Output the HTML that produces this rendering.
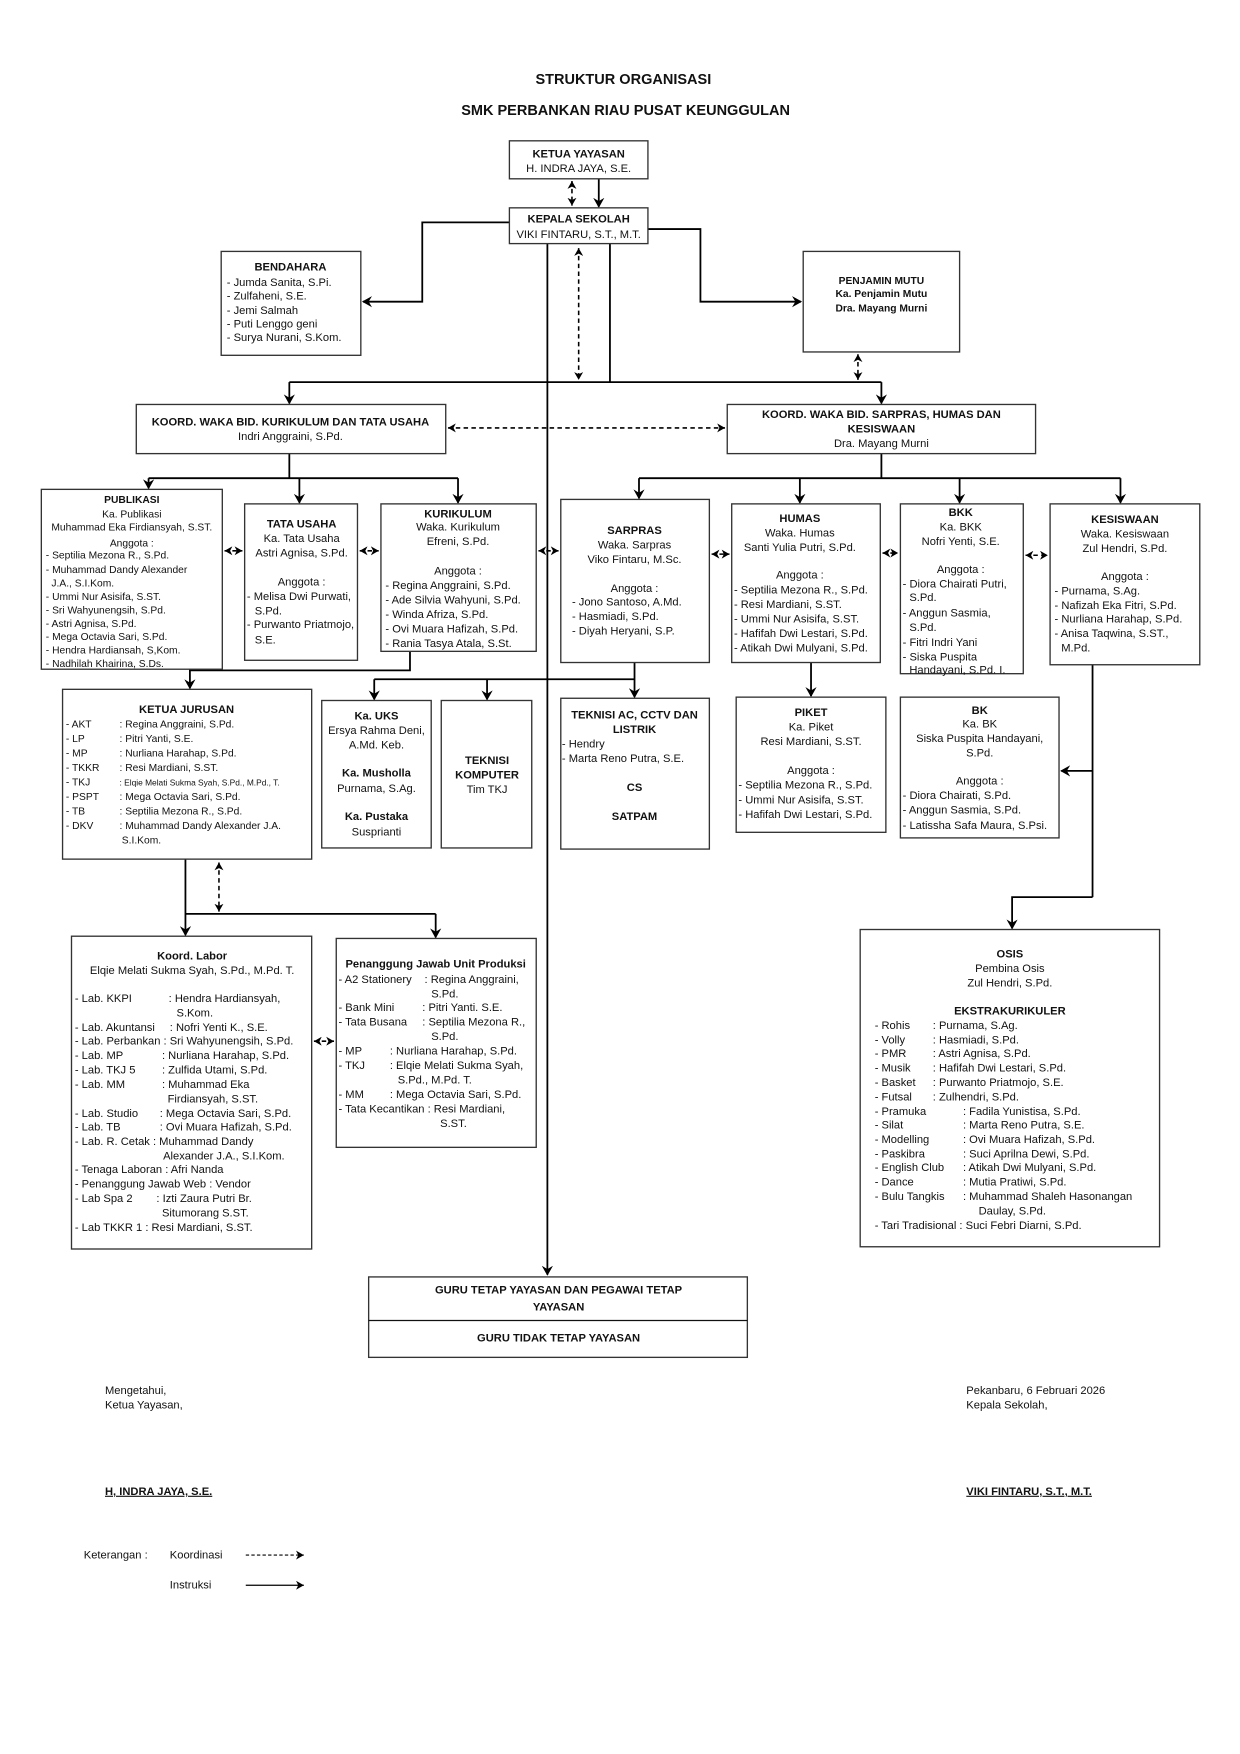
<!DOCTYPE html>
<html><head><meta charset="utf-8">
<style>
html,body{margin:0;padding:0;background:#fff;}
svg{display:block;}
text{font-family:"Liberation Sans",Arial,sans-serif;font-size:10px;fill:#111;}
.b{font-weight:bold;}
.c{text-anchor:middle;}
.s{font-size:9.2px;}
.t{font-size:7.5px;}
rect{fill:#fff;stroke:#333;stroke-width:1.2;}
.l{stroke:#000;stroke-width:1.6;fill:none;}
.d{stroke:#000;stroke-width:1.4;fill:none;stroke-dasharray:4,3;}
</style></head><body>
<svg width="1240" height="1754" viewBox="0 0 1110 1570" xmlns="http://www.w3.org/2000/svg">
<defs>
<marker id="a" markerWidth="10" markerHeight="10" refX="8" refY="5" orient="auto" markerUnits="userSpaceOnUse"><path d="M0,0 L9,5 L0,10 L3,5 z" fill="#000"/></marker>
<marker id="as" markerWidth="8" markerHeight="8" refX="7" refY="4" orient="auto-start-reverse" markerUnits="userSpaceOnUse"><path d="M0,0 L7,4 L0,8 L2,4 z" fill="#000"/></marker>
</defs>

<text class="b c" x="558" y="75" style="font-size:13px">STRUKTUR ORGANISASI</text>
<text class="b c" x="560" y="103" style="font-size:13px">SMK PERBANKAN RIAU PUSAT KEUNGGULAN</text>

<!-- connectors -->
<line class="d" x1="512" y1="162" x2="512" y2="184" marker-start="url(#as)" marker-end="url(#as)"/>
<line class="l" x1="536" y1="160" x2="536" y2="185" marker-end="url(#a)"/>
<polyline class="l" points="456,199 378,199 378,270 325,270" marker-end="url(#a)"/>
<polyline class="l" points="580,205 627,205 627,270 717,270" marker-end="url(#a)"/>
<line class="l" x1="490" y1="218" x2="490" y2="1141" marker-end="url(#a)"/>
<line class="l" x1="546" y1="218" x2="546" y2="342"/>
<line class="d" x1="518" y1="222" x2="518" y2="340" marker-start="url(#as)" marker-end="url(#as)"/>
<line class="l" x1="259" y1="342" x2="789" y2="342"/>
<line class="l" x1="259" y1="342" x2="259" y2="361" marker-end="url(#a)"/>
<line class="l" x1="789" y1="342" x2="789" y2="361" marker-end="url(#a)"/>
<line class="d" x1="768" y1="317" x2="768" y2="340" marker-start="url(#as)" marker-end="url(#as)"/>
<line class="d" x1="401" y1="383" x2="649" y2="383" marker-start="url(#as)" marker-end="url(#as)"/>

<line class="l" x1="259" y1="406" x2="259" y2="428"/>
<line class="l" x1="133" y1="428" x2="410" y2="428"/>
<line class="l" x1="133" y1="428" x2="133" y2="437" marker-end="url(#a)"/>
<line class="l" x1="268" y1="428" x2="268" y2="450" marker-end="url(#a)"/>
<line class="l" x1="410" y1="428" x2="410" y2="450" marker-end="url(#a)"/>
<line class="l" x1="789" y1="406" x2="789" y2="428"/>
<line class="l" x1="572" y1="428" x2="1003" y2="428"/>
<line class="l" x1="572" y1="428" x2="572" y2="446" marker-end="url(#a)"/>
<line class="l" x1="716" y1="428" x2="716" y2="450" marker-end="url(#a)"/>
<line class="l" x1="859" y1="428" x2="859" y2="450" marker-end="url(#a)"/>
<line class="l" x1="1003" y1="428" x2="1003" y2="450" marker-end="url(#a)"/>

<line class="d" x1="201" y1="493" x2="217" y2="493" marker-start="url(#as)" marker-end="url(#as)"/>
<line class="d" x1="322" y1="493" x2="339" y2="493" marker-start="url(#as)" marker-end="url(#as)"/>
<line class="d" x1="482" y1="493" x2="500" y2="493" marker-start="url(#as)" marker-end="url(#as)"/>
<line class="d" x1="637" y1="496" x2="653" y2="496" marker-start="url(#as)" marker-end="url(#as)"/>
<line class="d" x1="790" y1="495" x2="804" y2="495" marker-start="url(#as)" marker-end="url(#as)"/>
<line class="d" x1="918" y1="497" x2="938" y2="497" marker-start="url(#as)" marker-end="url(#as)"/>

<polyline class="l" points="367,583 367,600 170,600 170,616" marker-end="url(#a)"/>
<line class="l" x1="568" y1="593" x2="568" y2="624" marker-end="url(#a)"/>
<line class="l" x1="335" y1="608" x2="568" y2="608"/>
<line class="l" x1="335" y1="608" x2="335" y2="626" marker-end="url(#a)"/>
<line class="l" x1="436" y1="608" x2="436" y2="626" marker-end="url(#a)"/>
<line class="l" x1="726" y1="593" x2="726" y2="623" marker-end="url(#a)"/>
<line class="l" x1="978" y1="595" x2="978" y2="803"/>
<line class="l" x1="978" y1="690" x2="950" y2="690" marker-end="url(#a)"/>
<polyline class="l" points="978,803 906,803 906,831" marker-end="url(#a)"/>

<line class="l" x1="166" y1="769" x2="166" y2="837" marker-end="url(#a)"/>
<line class="l" x1="166" y1="818" x2="390" y2="818"/>
<line class="l" x1="390" y1="818" x2="390" y2="839" marker-end="url(#a)"/>
<line class="d" x1="196" y1="772" x2="196" y2="816" marker-start="url(#as)" marker-end="url(#as)"/>
<line class="d" x1="281" y1="932" x2="299" y2="932" marker-start="url(#as)" marker-end="url(#as)"/>

<!-- boxes -->
<rect x="456" y="126" width="124" height="34"/>
<text class="b c" x="518" y="141">KETUA YAYASAN</text>
<text class="c" x="518" y="154">H. INDRA JAYA, S.E.</text>

<rect x="456" y="186" width="124" height="32"/>
<text class="b c" x="518" y="199">KEPALA SEKOLAH</text>
<text class="c" x="518" y="213">VIKI FINTARU, S.T., M.T.</text>

<rect x="198" y="225" width="125" height="93"/>
<text class="b c" x="260" y="242">BENDAHARA</text>
<text x="203" y="256">- Jumda Sanita, S.Pi.</text>
<text x="203" y="268">- Zulfaheni, S.E.</text>
<text x="203" y="281">- Jemi Salmah</text>
<text x="203" y="293">- Puti Lenggo geni</text>
<text x="203" y="305">- Surya Nurani, S.Kom.</text>

<rect x="719" y="225" width="140" height="90"/>
<text class="b c s" x="789" y="254">PENJAMIN MUTU</text>
<text class="b c s" x="789" y="266">Ka. Penjamin Mutu</text>
<text class="b c s" x="789" y="279">Dra. Mayang Murni</text>

<rect x="122" y="362" width="277" height="44"/>
<text class="b c" x="260" y="381">KOORD. WAKA BID. KURIKULUM DAN TATA USAHA</text>
<text class="c" x="260" y="394">Indri Anggraini, S.Pd.</text>

<rect x="651" y="362" width="276" height="44"/>
<text class="b c" x="789" y="374">KOORD. WAKA BID. SARPRAS, HUMAS DAN</text>
<text class="b c" x="789" y="387">KESISWAAN</text>
<text class="c" x="789" y="400">Dra. Mayang Murni</text>

<rect x="37" y="438" width="162" height="161"/>
<text class="b c s" x="118" y="450">PUBLIKASI</text>
<text class="c s" x="118" y="463">Ka. Publikasi</text>
<text class="c s" x="118" y="475">Muhammad Eka Firdiansyah, S.ST.</text>
<text class="c s" x="118" y="489">Anggota :</text>
<text class="s" x="41" y="500">- Septilia Mezona R., S.Pd.</text>
<text class="s" x="41" y="513">- Muhammad Dandy Alexander</text>
<text class="s" x="46" y="525">J.A., S.I.Kom.</text>
<text class="s" x="41" y="537">- Ummi Nur Asisifa, S.ST.</text>
<text class="s" x="41" y="549">- Sri Wahyunengsih, S.Pd.</text>
<text class="s" x="41" y="561">- Astri Agnisa, S.Pd.</text>
<text class="s" x="41" y="573">- Mega Octavia Sari, S.Pd.</text>
<text class="s" x="41" y="585">- Hendra Hardiansah, S,Kom.</text>
<text class="s" x="41" y="597">- Nadhilah Khairina, S.Ds.</text>

<rect x="219" y="451" width="101" height="140"/>
<text class="b c" x="270" y="472">TATA USAHA</text>
<text class="c" x="270" y="485">Ka. Tata Usaha</text>
<text class="c" x="270" y="498">Astri Agnisa, S.Pd.</text>
<text class="c" x="270" y="524">Anggota :</text>
<text x="221" y="537">- Melisa Dwi Purwati,</text>
<text x="228" y="550">S.Pd.</text>
<text x="221" y="562">- Purwanto Priatmojo,</text>
<text x="228" y="576">S.E.</text>

<rect x="341" y="451" width="139" height="132"/>
<text class="b c" x="410" y="463">KURIKULUM</text>
<text class="c" x="410" y="475">Waka. Kurikulum</text>
<text class="c" x="410" y="488">Efreni, S.Pd.</text>
<text class="c" x="410" y="514">Anggota :</text>
<text x="345" y="527">- Regina Anggraini, S.Pd.</text>
<text x="345" y="540">- Ade Silvia Wahyuni, S.Pd.</text>
<text x="345" y="553">- Winda Afriza, S.Pd.</text>
<text x="345" y="566">- Ovi Muara Hafizah, S.Pd.</text>
<text x="345" y="579">- Rania Tasya Atala, S.St.</text>

<rect x="502" y="447" width="133" height="146"/>
<text class="b c" x="568" y="478">SARPRAS</text>
<text class="c" x="568" y="491">Waka. Sarpras</text>
<text class="c" x="568" y="504">Viko Fintaru, M.Sc.</text>
<text class="c" x="568" y="530">Anggota :</text>
<text x="512" y="542">- Jono Santoso, A.Md.</text>
<text x="512" y="555">- Hasmiadi, S.Pd.</text>
<text x="512" y="568">- Diyah Heryani, S.P.</text>

<rect x="655" y="451" width="133" height="142"/>
<text class="b c" x="716" y="467">HUMAS</text>
<text class="c" x="716" y="480">Waka. Humas</text>
<text class="c" x="716" y="493">Santi Yulia Putri, S.Pd.</text>
<text class="c" x="716" y="518">Anggota :</text>
<text x="657" y="531">- Septilia Mezona R., S.Pd.</text>
<text x="657" y="544">- Resi Mardiani, S.ST.</text>
<text x="657" y="557">- Ummi Nur Asisifa, S.ST.</text>
<text x="657" y="570">- Hafifah Dwi Lestari, S.Pd.</text>
<text x="657" y="583">- Atikah Dwi Mulyani, S.Pd.</text>

<rect x="806" y="451" width="110" height="152"/>
<text class="b c" x="860" y="462">BKK</text>
<text class="c" x="860" y="475">Ka. BKK</text>
<text class="c" x="860" y="488">Nofri Yenti, S.E.</text>
<text class="c" x="860" y="513">Anggota :</text>
<text x="808" y="526">- Diora Chairati Putri,</text>
<text x="814" y="538">S.Pd.</text>
<text x="808" y="552">- Anggun Sasmia,</text>
<text x="814" y="565">S.Pd.</text>
<text x="808" y="578">- Fitri Indri Yani</text>
<text x="808" y="591">- Siska Puspita</text>
<text x="814" y="603">Handayani, S.Pd. I.</text>

<rect x="940" y="451" width="134" height="144"/>
<text class="b c" x="1007" y="468">KESISWAAN</text>
<text class="c" x="1007" y="481">Waka. Kesiswaan</text>
<text class="c" x="1007" y="494">Zul Hendri, S.Pd.</text>
<text class="c" x="1007" y="519">Anggota :</text>
<text x="944" y="532">- Purnama, S.Ag.</text>
<text x="944" y="545">- Nafizah Eka Fitri, S.Pd.</text>
<text x="944" y="557">- Nurliana Harahap, S.Pd.</text>
<text x="944" y="570">- Anisa Taqwina, S.ST.,</text>
<text x="950" y="583">M.Pd.</text>

<rect x="56" y="617" width="223" height="152"/>
<text class="b c" x="167" y="638">KETUA JURUSAN</text>
<g class="s">
<text class="s" x="59" y="651">- AKT</text><text class="s" x="107" y="651">: Regina Anggraini, S.Pd.</text>
<text class="s" x="59" y="664">- LP</text><text class="s" x="107" y="664">: Pitri Yanti, S.E.</text>
<text class="s" x="59" y="677">- MP</text><text class="s" x="107" y="677">: Nurliana Harahap, S.Pd.</text>
<text class="s" x="59" y="690">- TKKR</text><text class="s" x="107" y="690">: Resi Mardiani, S.ST.</text>
<text class="s" x="59" y="703">- TKJ</text><text class="t" x="107" y="703">: Elqie Melati Sukma Syah, S.Pd., M.Pd., T.</text>
<text class="s" x="59" y="716">- PSPT</text><text class="s" x="107" y="716">: Mega Octavia Sari, S.Pd.</text>
<text class="s" x="59" y="729">- TB</text><text class="s" x="107" y="729">: Septilia Mezona R., S.Pd.</text>
<text class="s" x="59" y="742">- DKV</text><text class="s" x="107" y="742">: Muhammad Dandy Alexander J.A.</text>
<text class="s" x="109" y="755">S.I.Kom.</text>
</g>

<rect x="288" y="627" width="98" height="132"/>
<text class="b c" x="337" y="644">Ka. UKS</text>
<text class="c" x="337" y="657">Ersya Rahma Deni,</text>
<text class="c" x="337" y="670">A.Md. Keb.</text>
<text class="b c" x="337" y="695">Ka. Musholla</text>
<text class="c" x="337" y="709">Purnama, S.Ag.</text>
<text class="b c" x="337" y="734">Ka. Pustaka</text>
<text class="c" x="337" y="748">Susprianti</text>

<rect x="395" y="627" width="81" height="132"/>
<text class="b c" x="436" y="684">TEKNISI</text>
<text class="b c" x="436" y="697">KOMPUTER</text>
<text class="c" x="436" y="710">Tim TKJ</text>

<rect x="502" y="625" width="133" height="135"/>
<text class="b c" x="568" y="643">TEKNISI AC, CCTV DAN</text>
<text class="b c" x="568" y="656">LISTRIK</text>
<text x="503" y="669">- Hendry</text>
<text x="503" y="682">- Marta Reno Putra, S.E.</text>
<text class="b c" x="568" y="708">CS</text>
<text class="b c" x="568" y="734">SATPAM</text>

<rect x="659" y="624" width="134" height="121"/>
<text class="b c" x="726" y="641">PIKET</text>
<text class="c" x="726" y="654">Ka. Piket</text>
<text class="c" x="726" y="667">Resi Mardiani, S.ST.</text>
<text class="c" x="726" y="693">Anggota :</text>
<text x="661" y="706">- Septilia Mezona R., S.Pd.</text>
<text x="661" y="719">- Ummi Nur Asisifa, S.ST.</text>
<text x="661" y="732">- Hafifah Dwi Lestari, S.Pd.</text>

<rect x="806" y="624" width="142" height="126"/>
<text class="b c" x="877" y="639">BK</text>
<text class="c" x="877" y="651">Ka. BK</text>
<text class="c" x="877" y="664">Siska Puspita Handayani,</text>
<text class="c" x="877" y="677">S.Pd.</text>
<text class="c" x="877" y="702">Anggota :</text>
<text x="808" y="715">- Diora Chairati, S.Pd.</text>
<text x="808" y="728">- Anggun Sasmia, S.Pd.</text>
<text x="808" y="742">- Latissha Safa Maura, S.Psi.</text>

<rect x="64" y="838" width="215" height="280"/>
<text class="b c" x="172" y="859">Koord. Labor</text>
<text class="c" x="172" y="872">Elqie Melati Sukma Syah, S.Pd., M.Pd. T.</text>
<text x="67" y="897">- Lab. KKPI</text><text x="151" y="897">: Hendra Hardiansyah,</text>
<text x="158" y="910">S.Kom.</text>
<text x="67" y="923">- Lab. Akuntansi</text><text x="152" y="923">: Nofri Yenti K., S.E.</text>
<text x="67" y="935">- Lab. Perbankan : Sri Wahyunengsih, S.Pd.</text>
<text x="67" y="948">- Lab. MP</text><text x="145" y="948">: Nurliana Harahap, S.Pd.</text>
<text x="67" y="961">- Lab. TKJ 5</text><text x="145" y="961">: Zulfida Utami, S.Pd.</text>
<text x="67" y="974">- Lab. MM</text><text x="145" y="974">: Muhammad Eka</text>
<text x="150" y="987">Firdiansyah, S.ST.</text>
<text x="67" y="1000">- Lab. Studio</text><text x="143" y="1000">: Mega Octavia Sari, S.Pd.</text>
<text x="67" y="1012">- Lab. TB</text><text x="143" y="1012">: Ovi Muara Hafizah, S.Pd.</text>
<text x="67" y="1025">- Lab. R. Cetak : Muhammad Dandy</text>
<text x="146" y="1038">Alexander J.A., S.I.Kom.</text>
<text x="67" y="1050">- Tenaga Laboran : Afri Nanda</text>
<text x="67" y="1063">- Penanggung Jawab Web : Vendor</text>
<text x="67" y="1076">- Lab Spa 2</text><text x="140" y="1076">: Izti Zaura Putri Br.</text>
<text x="145" y="1089">Situmorang S.ST.</text>
<text x="67" y="1102">- Lab TKKR 1  : Resi Mardiani, S.ST.</text>

<rect x="301" y="840" width="179" height="187"/>
<text class="b c" x="390" y="866">Penanggung Jawab Unit Produksi</text>
<text x="303" y="880">- A2 Stationery</text><text x="380" y="880">: Regina Anggraini,</text>
<text x="386" y="893">S.Pd.</text>
<text x="303" y="905">- Bank Mini</text><text x="378" y="905">: Pitri Yanti. S.E.</text>
<text x="303" y="918">- Tata Busana</text><text x="378" y="918">: Septilia Mezona R.,</text>
<text x="386" y="931">S.Pd.</text>
<text x="303" y="944">- MP</text><text x="349" y="944">: Nurliana Harahap, S.Pd.</text>
<text x="303" y="957">- TKJ</text><text x="349" y="957">: Elqie Melati Sukma Syah,</text>
<text x="356" y="970">S.Pd., M.Pd. T.</text>
<text x="303" y="983">- MM</text><text x="349" y="983">: Mega Octavia Sari, S.Pd.</text>
<text x="303" y="996">- Tata Kecantikan : Resi Mardiani,</text>
<text x="394" y="1009">S.ST.</text>

<rect x="770" y="832" width="268" height="284"/>
<text class="b c" x="904" y="857">OSIS</text>
<text class="c" x="904" y="870">Pembina Osis</text>
<text class="c" x="904" y="883">Zul Hendri, S.Pd.</text>
<text class="b c" x="904" y="908">EKSTRAKURIKULER</text>
<text x="783" y="921">- Rohis</text><text x="835" y="921">: Purnama, S.Ag.</text>
<text x="783" y="934">- Volly</text><text x="835" y="934">: Hasmiadi, S.Pd.</text>
<text x="783" y="946">- PMR</text><text x="835" y="946">: Astri Agnisa, S.Pd.</text>
<text x="783" y="959">- Musik</text><text x="835" y="959">: Hafifah Dwi Lestari, S.Pd.</text>
<text x="783" y="972">- Basket</text><text x="835" y="972">: Purwanto Priatmojo, S.E.</text>
<text x="783" y="985">- Futsal</text><text x="835" y="985">: Zulhendri, S.Pd.</text>
<text x="783" y="998">- Pramuka</text><text x="862" y="998">: Fadila Yunistisa, S.Pd.</text>
<text x="783" y="1010">- Silat</text><text x="862" y="1010">: Marta Reno Putra, S.E.</text>
<text x="783" y="1023">- Modelling</text><text x="862" y="1023">: Ovi Muara Hafizah, S.Pd.</text>
<text x="783" y="1036">- Paskibra</text><text x="862" y="1036">: Suci Aprilna Dewi, S.Pd.</text>
<text x="783" y="1048">- English Club</text><text x="862" y="1048">: Atikah Dwi Mulyani, S.Pd.</text>
<text x="783" y="1061">- Dance</text><text x="862" y="1061">: Mutia Pratiwi, S.Pd.</text>
<text x="783" y="1074">- Bulu Tangkis</text><text x="862" y="1074">: Muhammad Shaleh Hasonangan</text>
<text x="876" y="1087">Daulay, S.Pd.</text>
<text x="783" y="1100">- Tari Tradisional : Suci Febri Diarni, S.Pd.</text>

<rect x="330" y="1143" width="339" height="72"/>
<line x1="330" y1="1182" x2="669" y2="1182" stroke="#111" stroke-width="1.2"/>
<text class="b c" x="500" y="1158">GURU TETAP YAYASAN DAN PEGAWAI TETAP</text>
<text class="b c" x="500" y="1173">YAYASAN</text>
<text class="b c" x="500" y="1201">GURU TIDAK TETAP YAYASAN</text>

<text x="94" y="1248">Mengetahui,</text>
<text x="94" y="1261">Ketua Yayasan,</text>
<text class="b" x="94" y="1338" text-decoration="underline">H, INDRA JAYA, S.E.</text>
<text x="865" y="1248">Pekanbaru, 6 Februari 2026</text>
<text x="865" y="1261">Kepala Sekolah,</text>
<text class="b" x="865" y="1338" text-decoration="underline">VIKI FINTARU, S.T., M.T.</text>

<text x="75" y="1395">Keterangan :</text>
<text x="152" y="1395">Koordinasi</text>
<line x1="220" y1="1392" x2="272" y2="1392" stroke="#000" stroke-width="1" stroke-dasharray="3,2" marker-end="url(#as)"/>
<text x="152" y="1422">Instruksi</text>
<line x1="220" y1="1419" x2="272" y2="1419" stroke="#000" stroke-width="1.2" marker-end="url(#as)"/>
</svg>
</body></html>
